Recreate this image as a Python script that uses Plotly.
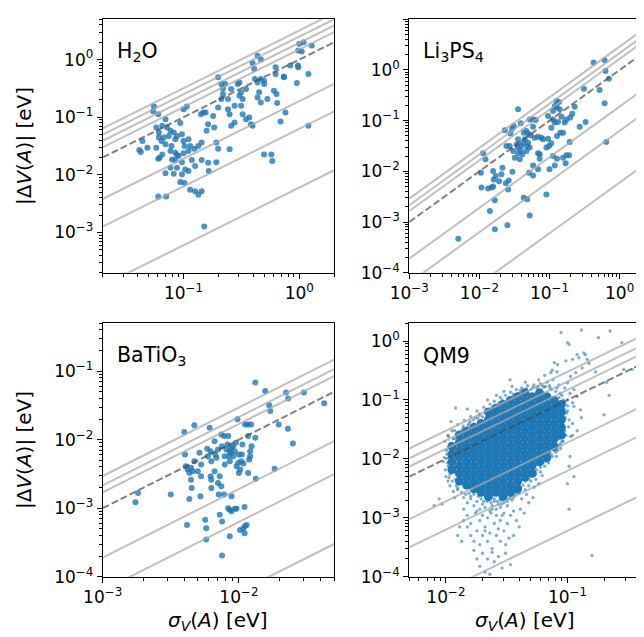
import numpy as np
import plotly.graph_objects as go

# ---------------------------------------------------------------- data
# H2O
h2o_sigma = [0.0555, 0.0545, 0.0604, 0.0441, 0.0414, 0.0427, 0.0487, 0.0581, 0.0612, 0.0654,
             0.0698, 0.0721, 0.077, 0.0822, 0.0877, 0.0968, 0.0745, 0.0675, 0.0612, 0.0581,
             0.0645, 0.0698, 0.0785, 0.0849, 0.0937, 0.1, 0.1067, 0.1103, 0.102, 0.0849,
             0.0877, 0.0795, 0.0849, 0.0906, 0.1, 0.1103, 0.124, 0.0654, 0.0621, 0.0604,
             0.077, 0.0698, 0.0822, 0.0937, 0.102, 0.114, 0.1257, 0.1342, 0.1433, 0.0604,
             0.0707, 0.151, 0.1257, 0.1433, 0.163, 0.165, 0.192, 0.192, 0.148, 0.1413,
             0.155, 0.158, 0.163, 0.18, 0.184, 0.199, 0.212, 0.242, 0.229, 0.219,
             0.199, 0.212, 0.219, 0.258, 0.276, 0.242, 0.25, 0.258, 0.276, 0.25,
             0.304, 0.294, 0.304, 0.314, 0.324, 0.314, 0.324, 0.346, 0.346, 0.37,
             0.382, 0.395, 0.414, 0.395, 0.408, 0.436, 0.465, 0.436, 0.465, 0.45,
             0.436, 0.465, 0.496, 0.496, 0.53, 0.574, 0.585, 0.496, 0.604, 0.625,
             0.625, 0.636, 0.645, 0.736, 0.736, 0.76, 0.689, 0.837, 0.98, 1.0,
             1.09, 1.28, 1.05, 0.973, 0.98, 1.2, 0.953, 1.2, 0.1433, 0.1342,
             0.1103, 0.1178, 0.0968, 0.1033, 0.199, 0.0968, 0.0877, 0.077, 0.1, 0.114]
h2o_dv = [0.154, 0.127, 0.113, 0.0387, 0.027, 0.0249, 0.0296, 0.066, 0.054, 0.0707,
          0.092, 0.066, 0.058, 0.054, 0.0472, 0.0506, 0.0472, 0.0443, 0.0443, 0.0296,
          0.0387, 0.0338, 0.0316, 0.0414, 0.079, 0.138, 0.154, 0.0414, 0.0316, 0.0242,
          0.022, 0.0185, 0.0181, 0.0212, 0.0236, 0.0259, 0.0284, 0.0226, 0.0198, 0.019,
          0.0133, 0.0106, 0.0104, 0.0075, 0.0072, 0.0055, 0.0052, 0.0045, 0.0052, 0.0042,
          0.0042, 0.00127, 0.0142, 0.0181, 0.0162, 0.0116, 0.0166, 0.0362, 0.121, 0.113,
          0.121, 0.058, 0.0755, 0.105, 0.066, 0.148, 0.206, 0.206, 0.376, 0.316,
          0.492, 0.376, 0.252, 0.308, 0.158, 0.138, 0.113, 0.0707, 0.081, 0.0277,
          0.402, 0.376, 0.236, 0.27, 0.206, 0.158, 0.113, 0.308, 0.092, 0.099,
          0.0755, 0.0707, 0.46, 0.875, 0.688, 1.17, 1.0, 0.402, 0.46, 0.27,
          0.22, 0.18, 0.43, 0.376, 0.206, 0.0226, 0.0173, 0.0226, 0.288, 0.735,
          0.562, 0.252, 0.176, 0.51, 0.492, 0.121, 0.084, 0.786, 1.44, 1.88,
          2.0, 1.75, 1.38, 0.786, 0.735, 0.562, 0.392, 0.0707, 0.0362, 0.0316,
          0.0116, 0.0181, 0.0102, 0.0124, 0.0284, 0.0166, 0.0133, 0.0259, 0.0387, 0.0316]

# Li3PS4
li3ps4_sigma = [0.00499, 0.0113, 0.0122, 0.0105, 0.0107, 0.0133, 0.0149, 0.0157, 0.016, 0.0157,
                0.0171, 0.0166, 0.0141, 0.0166, 0.0251, 0.0257, 0.0238, 0.0262, 0.0296, 0.0243,
                0.023, 0.0277, 0.0293, 0.0309, 0.0356, 0.0271, 0.0302, 0.032, 0.0356, 0.0356,
                0.0356, 0.0377, 0.0387, 0.0398, 0.041, 0.042, 0.0444, 0.0468, 0.048, 0.0494,
                0.0522, 0.043, 0.0389, 0.0468, 0.0535, 0.0494, 0.0583, 0.0522, 0.0636, 0.0583,
                0.0616, 0.0687, 0.0766, 0.0809, 0.0725, 0.0687, 0.0583, 0.0583, 0.0687, 0.0511,
                0.043, 0.048, 0.0522, 0.0902, 0.0902, 0.0984, 0.106, 0.0953, 0.106, 0.0953,
                0.112, 0.112, 0.119, 0.125, 0.137, 0.128, 0.14, 0.119, 0.132, 0.128,
                0.143, 0.112, 0.128, 0.119, 0.156, 0.148, 0.165, 0.174, 0.198, 0.212,
                0.229, 0.156, 0.174, 0.19, 0.194, 0.17, 0.269, 0.327, 0.31, 0.425,
                0.611, 0.63, 0.705, 0.519, 0.611, 0.646, 0.1, 0.0725, 0.034, 0.0213,
                0.0191, 0.0206]
li3ps4_dv = [0.00047, 0.0227, 0.0173, 0.0094, 0.0048, 0.0046, 0.0048, 0.005, 0.0069, 0.0102,
             0.0081, 0.0027, 0.00165, 0.00072, 0.00086, 0.0044, 0.0058, 0.0066, 0.0098, 0.0316,
             0.0645, 0.056, 0.0695, 0.0785, 0.168, 0.0316, 0.0252, 0.0186, 0.0428, 0.0295,
             0.0227, 0.0173, 0.0252, 0.0316, 0.0217, 0.0368, 0.0428, 0.0252, 0.0316, 0.0368,
             0.0295, 0.058, 0.0886, 0.0625, 0.0513, 0.056, 0.106, 0.106, 0.103, 0.076,
             0.0462, 0.0483, 0.0462, 0.0428, 0.0217, 0.0227, 0.0131, 0.0083, 0.011, 0.0094,
             0.003, 0.0028, 0.00135, 0.0035, 0.0295, 0.0316, 0.0357, 0.0441, 0.0728, 0.124,
             0.106, 0.155, 0.195, 0.245, 0.234, 0.181, 0.168, 0.0915, 0.094, 0.0498,
             0.058, 0.0201, 0.0178, 0.0131, 0.0186, 0.12, 0.0915, 0.106, 0.115, 0.137,
             0.189, 0.058, 0.0207, 0.0207, 0.038, 0.0144, 0.076, 0.094, 0.428, 1.4,
             1.55, 0.955, 0.675, 0.403, 0.22, 0.038, 0.011, 0.0178, 0.034, 0.0118,
             0.0064, 0.0088]

# BaTiO3
batio3_sigma = [0.00174, 0.00182, 0.00316, 0.00397, 0.00471, 0.00402, 0.00408, 0.0042, 0.00433, 0.00445,
                0.00458, 0.00445, 0.0045, 0.00433, 0.00416, 0.00499, 0.00513, 0.00522, 0.00566, 0.00575,
                0.00575, 0.00585, 0.00592, 0.0061, 0.0062, 0.00627, 0.0062, 0.00627, 0.00627, 0.00663,
                0.00671, 0.00683, 0.00703, 0.00703, 0.00711, 0.00723, 0.00743, 0.00778, 0.00752, 0.00743,
                0.00723, 0.00752, 0.00752, 0.00787, 0.00778, 0.00809, 0.00824, 0.00834, 0.00843, 0.00857,
                0.00857, 0.00871, 0.00883, 0.00883, 0.00834, 0.00857, 0.00857, 0.00883, 0.00934, 0.00961,
                0.00908, 0.00934, 0.0095, 0.00977, 0.00961, 0.00989, 0.01, 0.0102, 0.0104, 0.0105,
                0.0106, 0.0108, 0.0102, 0.0108, 0.011, 0.0111, 0.0114, 0.011, 0.0111, 0.0116,
                0.0117, 0.0119, 0.0121, 0.0121, 0.0123, 0.0117, 0.0132, 0.0132, 0.0133, 0.0156,
                0.0167, 0.017, 0.0183, 0.0196, 0.0222, 0.023, 0.0229, 0.0249, 0.03, 0.0423,
                0.00528, 0.00663, 0.00528, 0.00471, 0.01, 0.00908, 0.0124, 0.00787]
batio3_dv = [0.00122, 0.00167, 0.00158, 0.0129, 0.0162, 0.00608, 0.0041, 0.00366, 0.00327, 0.00389,
             0.00345, 0.00261, 0.00197, 0.00136, 0.00057, 0.00345, 0.00643, 0.00149, 0.00068, 0.00051,
             0.00035, 0.00736, 0.00574, 0.0149, 0.0068, 0.00485, 0.00292, 0.00197, 0.00261, 0.00345,
             0.00608, 0.00543, 0.0072, 0.00233, 0.00158, 0.00292, 0.0119, 0.0113, 0.00805, 0.00209,
             0.0008, 0.00064, 0.000204, 0.00434, 0.00158, 0.0072, 0.00851, 0.0113, 0.00574, 0.0068,
             0.00485, 0.00643, 0.0076, 0.00149, 0.001, 0.00095, 0.00039, 0.0009, 0.00098, 0.00098,
             0.00574, 0.0068, 0.009, 0.0198, 0.0041, 0.00458, 0.00327, 0.00366, 0.00485, 0.00608,
             0.00851, 0.0045, 0.00048, 0.00051, 0.00043, 0.00055, 0.00057, 0.00104, 0.0167, 0.0167,
             0.0113, 0.00513, 0.0068, 0.00574, 0.0167, 0.00327, 0.0682, 0.0107, 0.0027, 0.0515,
             0.0318, 0.0262, 0.00375, 0.0167, 0.0487, 0.0398, 0.0145, 0.0088, 0.0487, 0.034,
             0.00434, 0.0095, 0.00292, 0.00485, 0.00608, 0.00805, 0.00805, 0.00574]

# QM9: the densely packed core of the cloud (read column by column)
qm9_core_sigma = [0.0112, 0.0112, 0.0112, 0.0112,
                  0.0129, 0.0129, 0.0129, 0.0129, 0.0129, 0.0129, 0.0129,
                  0.0148, 0.0148, 0.0148, 0.0148, 0.0148, 0.0148, 0.0148, 0.0148,
                  0.017, 0.017, 0.017, 0.017, 0.017, 0.017, 0.017, 0.017, 0.017,
                  0.0195, 0.0195, 0.0195, 0.0195, 0.0195, 0.0195, 0.0195, 0.0195, 0.0195, 0.0195,
                  0.0224, 0.0224, 0.0224, 0.0224, 0.0224, 0.0224, 0.0224, 0.0224, 0.0224, 0.0224, 0.0224, 0.0224,
                  0.0257, 0.0257, 0.0257, 0.0257, 0.0257, 0.0257, 0.0257, 0.0257, 0.0257, 0.0257, 0.0257, 0.0257,
                  0.0295, 0.0295, 0.0295, 0.0295, 0.0295, 0.0295, 0.0295, 0.0295, 0.0295, 0.0295, 0.0295, 0.0295, 0.0295,
                  0.0339, 0.0339, 0.0339, 0.0339, 0.0339, 0.0339, 0.0339, 0.0339, 0.0339, 0.0339, 0.0339, 0.0339, 0.0339,
                  0.0389, 0.0389, 0.0389, 0.0389, 0.0389, 0.0389, 0.0389, 0.0389, 0.0389, 0.0389, 0.0389, 0.0389, 0.0389,
                  0.0447, 0.0447, 0.0447, 0.0447, 0.0447, 0.0447, 0.0447, 0.0447, 0.0447, 0.0447, 0.0447, 0.0447,
                  0.0513, 0.0513, 0.0513, 0.0513, 0.0513, 0.0513, 0.0513, 0.0513, 0.0513, 0.0513, 0.0513,
                  0.0589, 0.0589, 0.0589, 0.0589, 0.0589, 0.0589, 0.0589, 0.0589, 0.0589, 0.0589,
                  0.0676, 0.0676, 0.0676, 0.0676, 0.0676, 0.0676, 0.0676, 0.0676, 0.0676,
                  0.0776, 0.0776, 0.0776, 0.0776, 0.0776, 0.0776, 0.0776,
                  0.089, 0.089, 0.089, 0.089, 0.089]
qm9_core_dv = [0.0066, 0.0089, 0.012, 0.0162,
               0.0042, 0.0057, 0.0077, 0.0104, 0.014, 0.0188, 0.0254,
               0.0036, 0.0049, 0.0066, 0.0089, 0.012, 0.0162, 0.0219, 0.0295,
               0.0031, 0.0042, 0.0057, 0.0077, 0.0104, 0.014, 0.0188, 0.0254, 0.0343,
               0.0027, 0.0036, 0.0049, 0.0066, 0.0089, 0.012, 0.0162, 0.0219, 0.0295, 0.0398,
               0.0023, 0.0031, 0.0042, 0.0057, 0.0077, 0.0104, 0.014, 0.0188, 0.0254, 0.0343, 0.0462, 0.0624,
               0.0027, 0.0036, 0.0049, 0.0066, 0.0089, 0.012, 0.0162, 0.0219, 0.0295, 0.0398, 0.0537, 0.0724,
               0.0023, 0.0031, 0.0042, 0.0057, 0.0077, 0.0104, 0.014, 0.0188, 0.0254, 0.0343, 0.0462, 0.0624, 0.0841,
               0.0027, 0.0036, 0.0049, 0.0066, 0.0089, 0.012, 0.0162, 0.0219, 0.0295, 0.0398, 0.0537, 0.0724, 0.0977,
               0.0031, 0.0042, 0.0057, 0.0077, 0.0104, 0.014, 0.0188, 0.0254, 0.0343, 0.0462, 0.0624, 0.0841, 0.1135,
               0.0049, 0.0066, 0.0089, 0.012, 0.0162, 0.0219, 0.0295, 0.0398, 0.0537, 0.0724, 0.0977, 0.132,
               0.0057, 0.0077, 0.0104, 0.014, 0.0188, 0.0254, 0.0343, 0.0462, 0.0624, 0.0841, 0.1135,
               0.0089, 0.012, 0.0162, 0.0219, 0.0295, 0.0398, 0.0537, 0.0724, 0.0977, 0.132,
               0.0104, 0.014, 0.0188, 0.0254, 0.0343, 0.0462, 0.0624, 0.0841, 0.1135,
               0.0162, 0.0219, 0.0295, 0.0398, 0.0537, 0.0724, 0.0977,
               0.0254, 0.0343, 0.0462, 0.0624, 0.0841]

# QM9: individually visible points around the core
qm9_sigma = [0.0105, 0.0118, 0.0125, 0.0138, 0.0142, 0.0155, 0.016, 0.0175, 0.018, 0.019,
             0.0205, 0.021, 0.023, 0.0235, 0.025, 0.026, 0.028, 0.0285, 0.031, 0.032,
             0.034, 0.036, 0.038, 0.04, 0.042, 0.044, 0.047, 0.05, 0.053, 0.056,
             0.06, 0.064, 0.068, 0.072, 0.076, 0.08, 0.085, 0.09, 0.095, 0.1,
             0.105, 0.11, 0.058, 0.045, 0.035, 0.03, 0.026, 0.022, 0.015, 0.012,
             0.011, 0.0337, 0.073,
             0.078, 0.083, 0.097, 0.103, 0.11, 0.12, 0.124, 0.14, 0.145, 0.132,
             0.117, 0.106, 0.1, 0.113, 0.12, 0.113, 0.128, 0.103, 0.106, 0.105,
             0.103, 0.113, 0.1, 0.103, 0.09, 0.1, 0.11, 0.12, 0.13, 0.11,
             0.095, 0.085, 0.092, 0.088, 0.082, 0.097,
             0.0885, 0.13, 0.224, 0.1, 0.18, 0.28, 0.136, 0.2, 0.29, 0.34,
             0.22, 0.159, 0.15, 0.17, 0.21, 0.075, 0.065,
             0.0098, 0.0102, 0.0105, 0.01, 0.0108, 0.0115, 0.012, 0.0112, 0.0095, 0.0118,
             0.0125, 0.0106, 0.0115, 0.0099, 0.008, 0.0088, 0.0093, 0.0104, 0.0109, 0.0122,
             0.014, 0.015, 0.016, 0.017, 0.018, 0.019, 0.02, 0.021, 0.022, 0.023,
             0.024, 0.025, 0.026, 0.027, 0.028, 0.03, 0.032, 0.033, 0.035, 0.037,
             0.04, 0.042, 0.045, 0.048, 0.05, 0.055, 0.06, 0.065, 0.07, 0.075,
             0.08, 0.085, 0.09, 0.095, 0.053, 0.046, 0.062, 0.058,
             0.015, 0.016, 0.0175, 0.019, 0.02, 0.021, 0.022, 0.0235, 0.025, 0.026,
             0.028, 0.03, 0.032, 0.034, 0.036, 0.038, 0.041, 0.044, 0.048, 0.052,
             0.018, 0.024, 0.029, 0.014,
             0.016, 0.017, 0.018, 0.019, 0.02, 0.021, 0.022, 0.023, 0.024, 0.026,
             0.028, 0.03, 0.033, 0.036, 0.04, 0.015, 0.027, 0.031,
             0.018, 0.019, 0.02, 0.021, 0.022, 0.023, 0.025, 0.027, 0.029, 0.031,
             0.034, 0.017, 0.024, 0.0125, 0.013, 0.0135, 0.014,
             0.045, 0.05, 0.056, 0.063, 0.07, 0.078, 0.085,
             0.017, 0.0195, 0.022, 0.025, 0.028, 0.031, 0.034, 0.037, 0.041,
             0.0108, 0.0103, 0.0107, 0.0101, 0.0109, 0.0104, 0.0113, 0.0097, 0.0111, 0.0106,
             0.0118, 0.0122, 0.0135, 0.0139, 0.0152, 0.0158, 0.0168, 0.0183, 0.0188, 0.02,
             0.0215, 0.024, 0.0245, 0.0272, 0.029, 0.033, 0.036, 0.041, 0.046, 0.052,
             0.057, 0.062, 0.066, 0.071, 0.074, 0.082, 0.087,
             0.092, 0.094, 0.096, 0.093, 0.091, 0.098, 0.088, 0.083, 0.081, 0.1, 0.102,
             0.0125, 0.0135, 0.0145, 0.0155, 0.016, 0.0185, 0.0205, 0.0215, 0.0235, 0.0265,
             0.0285, 0.032, 0.036, 0.039, 0.043, 0.048, 0.054, 0.06, 0.066, 0.073, 0.079]
qm9_dv = [0.024, 0.03, 0.038, 0.033, 0.045, 0.04, 0.052, 0.05, 0.065, 0.058,
          0.075, 0.062, 0.085, 0.07, 0.095, 0.08, 0.11, 0.092, 0.12, 0.1,
          0.135, 0.115, 0.15, 0.13, 0.16, 0.14, 0.175, 0.15, 0.18, 0.16,
          0.19, 0.165, 0.2, 0.16, 0.22, 0.14, 0.18, 0.12, 0.16, 0.1,
          0.13, 0.09, 0.22, 0.2, 0.17, 0.14, 0.12, 0.1, 0.07, 0.073,
          0.043, 0.22, 0.29,
          0.43, 0.4, 0.46, 0.88, 0.49, 0.59, 0.52, 0.59, 0.49, 0.35,
          0.29, 0.25, 0.195, 0.15, 0.115, 0.078, 0.068, 0.046, 0.024, 0.011,
          0.0075, 0.005, 0.0038, 0.0014, 0.04, 0.065, 0.025, 0.03, 0.05, 0.04,
          0.09, 0.11, 0.02, 0.015, 0.3, 0.025,
          1.39, 1.54, 1.48, 0.94, 1.14, 0.94, 0.63, 0.056, 0.33, 0.33,
          0.12, 0.00023, 0.42, 0.3, 0.2, 0.32, 0.26,
          0.02, 0.012, 0.0075, 0.005, 0.0035, 0.0028, 0.0045, 0.03, 0.009, 0.0022,
          0.0032, 0.016, 0.022, 0.0065, 0.0016, 0.0021, 0.0017, 0.0042, 0.0095, 0.0035,
          0.0022, 0.0018, 0.0021, 0.0016, 0.0019, 0.0014, 0.0017, 0.0015, 0.0019, 0.0013,
          0.0016, 0.0019, 0.0014, 0.0017, 0.0015, 0.0018, 0.0016, 0.0021, 0.002, 0.0024,
          0.0026, 0.0021, 0.003, 0.0035, 0.0042, 0.0045, 0.006, 0.0075, 0.0085, 0.011,
          0.013, 0.017, 0.02, 0.03, 0.0033, 0.0025, 0.0052, 0.0038,
          0.0011, 0.0008, 0.0012, 0.0009, 0.0011, 0.0007, 0.001, 0.0012, 0.0008, 0.0011,
          0.0009, 0.0012, 0.0008, 0.0011, 0.0013, 0.0009, 0.0014, 0.0012, 0.0018, 0.0022,
          0.0013, 0.0014, 0.0011, 0.0014,
          0.0005, 0.0004, 0.0006, 0.00035, 0.0005, 0.0006, 0.0004, 0.00055, 0.0003, 0.0005,
          0.0004, 0.0006, 0.00045, 0.0005, 0.0007, 0.0007, 0.00065, 0.00035,
          0.0002, 0.00015, 0.00025, 0.00012, 0.0002, 0.00011, 0.00018, 0.00022, 0.00014, 0.00025,
          0.00016, 0.00028, 0.00026, 0.0005, 0.0007, 0.0004, 0.0009,
          0.0042, 0.005, 0.0065, 0.0085, 0.011, 0.014, 0.022,
          0.0025, 0.0021, 0.002, 0.0021, 0.002, 0.0021, 0.0023, 0.0027, 0.0033,
          0.0055, 0.0085, 0.011, 0.014, 0.018, 0.025, 0.0042, 0.0105, 0.0135, 0.0048,
          0.022, 0.026, 0.03, 0.036, 0.037, 0.043, 0.046, 0.049, 0.055, 0.052,
          0.068, 0.074, 0.065, 0.088, 0.1, 0.107, 0.125, 0.145, 0.155, 0.165,
          0.17, 0.175, 0.17, 0.175, 0.15, 0.16, 0.13,
          0.1, 0.07, 0.05, 0.035, 0.026, 0.06, 0.018, 0.014, 0.011, 0.08, 0.035,
          0.003, 0.0027, 0.0025, 0.0026, 0.0023, 0.0023, 0.0019, 0.0021, 0.0018, 0.0019,
          0.0017, 0.0019, 0.0022, 0.0026, 0.0036, 0.0045, 0.0055, 0.0072, 0.0092, 0.012, 0.015]

# axis limits
h2o_xlim, h2o_ylim = [0.02, 2.0], [2e-4, 5.0]
li3ps4_xlim, li3ps4_ylim = [1e-3, 2.0], [1e-4, 10.0]
batio3_xlim, batio3_ylim = [1e-3, 0.05], [1e-4, 0.5]
qm9_xlim, qm9_ylim = [5e-3, 0.4], [1e-4, 2.0]

# reference lines |dV| = k * sigma (solid grey), dashed line is k = 1
h2o_factors = [0.006, 0.063, 0.19, 1.5, 1.95, 2.5, 3.2]
li3ps4_factors = [0.006, 0.063, 0.19, 1.65, 2.15, 2.9]
batio3_factors = [0.006, 0.063, 0.19, 1.7, 2.15, 2.95]
qm9_factors = [0.006, 0.063, 0.19, 1.48, 2.05, 3.0]

# major tick positions
h2o_xticks, h2o_yticks = [0.1, 1.0], [1e-3, 1e-2, 1e-1, 1.0]
li3ps4_xticks, li3ps4_yticks = [1e-3, 1e-2, 1e-1, 1.0], [1e-4, 1e-3, 1e-2, 1e-1, 1.0, 10.0]
batio3_xticks, batio3_yticks = [1e-3, 1e-2], [1e-4, 1e-3, 1e-2, 1e-1]
qm9_xticks, qm9_yticks = [1e-2, 1e-1], [1e-4, 1e-3, 1e-2, 1e-1, 1.0]

panel_labels = ["H<sub>2</sub>O", "Li<sub>3</sub>PS<sub>4</sub>", "BaTiO<sub>3</sub>", "QM9"]
y_title = "|Δ<i>V</i>(<i>A</i>)| [eV]"
x_title = "<i>σ<sub>V</sub></i>(<i>A</i>) [eV]"

# ---------------------------------------------------------------- layout helpers
W, H = 644, 637          # browser window
OFF = 8                  # page body margin
FW, FH = W - OFF, H - OFF
FONT = "DejaVu Sans"
BLUE = "#1f77b4"


def paper_x(px):
    return (px - OFF) / FW


def paper_y(py):
    return 1 - (py - OFF) / FH


dom_x = [[paper_x(102.7), paper_x(334.1)], [paper_x(409.3), paper_x(640.7)]]
dom_y = [[paper_y(272.7), paper_y(19.3)], [paper_y(576.7), paper_y(323.3)]]
panel_px = [(102.7, 19.3), (409.3, 19.3), (102.7, 323.3), (409.3, 323.3)]


def fmt_ticks(vals):
    out = []
    for v in vals:
        e = int(round(np.log10(v)))
        out.append("10<sup>" + str(e).replace("-", "−") + "</sup>")
    return out


def minor_ticks(lim):
    lo = int(np.floor(np.log10(lim[0])))
    hi = int(np.ceil(np.log10(lim[1])))
    vals = []
    for d in range(lo, hi + 1):
        for m in range(2, 10):
            v = m * 10.0 ** d
            if lim[0] <= v <= lim[1]:
                vals.append(v)
    return vals


def axis(lim, ticks, domain, anchor):
    return dict(
        type="log", range=[np.log10(lim[0]), np.log10(lim[1])], domain=domain, anchor=anchor,
        automargin=False,
        showline=True, mirror=True, linecolor="black", linewidth=1,
        ticks="outside", ticklen=5, tickwidth=1, tickcolor="black",
        tickvals=ticks, ticktext=fmt_ticks(ticks),
        tickfont=dict(family=FONT, size=17, color="black"),
        showgrid=False, zeroline=False,
        minor=dict(tickvals=minor_ticks(lim), ticks="outside", ticklen=3,
                   tickwidth=0.8, tickcolor="black", showgrid=False),
    )


panels = [
    dict(sig=h2o_sigma, dv=h2o_dv, xlim=h2o_xlim, ylim=h2o_ylim, k=h2o_factors,
         xt=h2o_xticks, yt=h2o_yticks, col=0, row=0),
    dict(sig=li3ps4_sigma, dv=li3ps4_dv, xlim=li3ps4_xlim, ylim=li3ps4_ylim, k=li3ps4_factors,
         xt=li3ps4_xticks, yt=li3ps4_yticks, col=1, row=0),
    dict(sig=batio3_sigma, dv=batio3_dv, xlim=batio3_xlim, ylim=batio3_ylim, k=batio3_factors,
         xt=batio3_xticks, yt=batio3_yticks, col=0, row=1),
    dict(sig=qm9_sigma, dv=qm9_dv, xlim=qm9_xlim, ylim=qm9_ylim, k=qm9_factors,
         xt=qm9_xticks, yt=qm9_yticks, col=1, row=1),
]

fig = go.Figure()
layout = dict(template="none", width=FW, height=FH, margin=dict(l=0, r=0, t=0, b=0, pad=0),
              paper_bgcolor="white", plot_bgcolor="white", showlegend=False)
annotations = []

for i, p in enumerate(panels):
    n = "" if i == 0 else str(i + 1)
    xa, ya = "x" + n, "y" + n
    layout["xaxis" + n] = axis(p["xlim"], p["xt"], dom_x[p["col"]], ya)
    layout["yaxis" + n] = axis(p["ylim"], p["yt"], dom_y[p["row"]], xa)

    if i == 3:
        fig.add_trace(go.Scatter(x=qm9_core_sigma, y=qm9_core_dv, mode="markers",
                                 xaxis=xa, yaxis=ya, hoverinfo="skip",
                                 marker=dict(size=9, color=BLUE, opacity=1, line=dict(width=0))))
        fig.add_trace(go.Scatter(x=p["sig"], y=p["dv"], mode="markers", xaxis=xa, yaxis=ya,
                                 marker=dict(size=3.3, color=BLUE, opacity=0.6, line=dict(width=0))))
    else:
        fig.add_trace(go.Scatter(x=p["sig"], y=p["dv"], mode="markers", xaxis=xa, yaxis=ya,
                                 marker=dict(size=6, color=BLUE, opacity=0.8, line=dict(width=0))))

    xs = p["xlim"]
    for k in p["k"]:
        fig.add_trace(go.Scatter(x=xs, y=[k * v for v in xs], mode="lines", xaxis=xa, yaxis=ya,
                                 hoverinfo="skip",
                                 line=dict(color="rgba(170,170,170,0.75)", width=2)))
    fig.add_trace(go.Scatter(x=xs, y=list(xs), mode="lines", xaxis=xa, yaxis=ya, hoverinfo="skip",
                             line=dict(color="rgba(70,70,70,0.68)", width=2, dash="7px,3px")))

    # panel label
    lx, ty = panel_px[i]
    annotations.append(dict(text=panel_labels[i], xref="paper", yref="paper",
                            x=paper_x(lx + 12), y=paper_y(ty + 33), xanchor="left", yanchor="middle",
                            showarrow=False, font=dict(family=FONT, size=20.5, color="black")))

# axis titles
for r, cy in enumerate([146.0, 450.0]):
    annotations.append(dict(text=y_title, xref="paper", yref="paper", x=paper_x(24), y=paper_y(cy),
                            xanchor="center", yanchor="middle", textangle=-90, showarrow=False,
                            font=dict(family=FONT, size=20, color="black")))
for c, cx in enumerate([218.4, 525.0]):
    annotations.append(dict(text=x_title, xref="paper", yref="paper", x=paper_x(cx), y=paper_y(621),
                            xanchor="center", yanchor="middle", showarrow=False,
                            font=dict(family=FONT, size=20, color="black")))

layout["annotations"] = annotations
fig.update_layout(**layout)
fig.write_html("out.html")
